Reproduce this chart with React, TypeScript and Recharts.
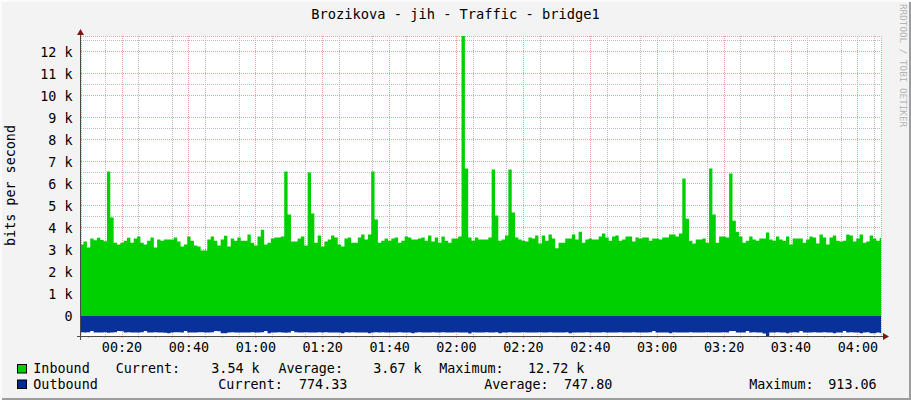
import { ComposedChart, Area, XAxis, YAxis, CartesianGrid } from "recharts";

const MONO = "'DejaVu Sans Mono', monospace";
const GREEN = "#00CF00";
const BLUE = "#002A97";
const GRID_MINOR = "#bcbcbc";
const GRID_MAJOR = "#eea0a0";

// one sample per minute, first one starts at 00:07:30
const START_MIN = 7.5;
const VIEW: [number, number] = [7.74, 246.9];
const Y_DOMAIN: [number, number] = [-913.06, 12720];

// inbound, bits per second
const inbound = [
  3240, 3380, 3110, 3520, 3440, 3550, 3450, 3390, 6560, 4470,
  3330, 3240, 3330, 3420, 3550, 3330, 3520, 3610, 3330, 3240,
  3420, 3560, 3110, 3470, 3420, 3470, 3470, 3470, 3560, 3380,
  3150, 3240, 3610, 3420, 3200, 3150, 2970, 2970, 3470, 3610,
  3420, 3200, 3470, 3640, 3150, 3520, 3420, 3560, 3420, 3420,
  3700, 3330, 3200, 3610, 3920, 3240, 3330, 3520, 3560, 3560,
  3610, 6560, 4610, 3380, 3380, 3520, 3610, 3200, 6520, 4650,
  3330, 3650, 3150, 3380, 3470, 3650, 3560, 3240, 3150, 3520,
  3560, 3330, 3330, 3560, 3700, 3470, 3700, 6560, 4380, 3330,
  3420, 3520, 3420, 3520, 3560, 3330, 3420, 3610, 3560, 3470,
  3470, 3520, 3560, 3420, 3650, 3380, 3560, 3330, 3610, 3420,
  3330, 3520, 3520, 3610, 12720, 6700, 3560, 3420, 3560, 3470,
  3470, 3470, 3560, 6650, 4560, 3420, 3470, 3650, 6650, 4700,
  3560, 3470, 3420, 3380, 3560, 3520, 3650, 3290, 3650, 3420,
  3700, 3520, 3070, 3330, 3330, 3520, 3520, 3700, 3470, 3830,
  3330, 3470, 3520, 3470, 3470, 3610, 3740, 3560, 3420, 3610,
  3650, 3420, 3470, 3610, 3610, 3380, 3560, 3520, 3560, 3560,
  3420, 3520, 3520, 3470, 3560, 3560, 3700, 3700, 3610, 3740,
  6240, 4420, 3420, 3290, 3470, 3470, 3520, 3330, 6700, 4610,
  3330, 3610, 3610, 3560, 6470, 4330, 3830, 3610, 3330, 3420,
  3610, 3470, 3420, 3520, 3520, 3790, 3470, 3420, 3610, 3470,
  3420, 3610, 3240, 3520, 3520, 3520, 3330, 3470, 3610, 3560,
  3290, 3700, 3560, 3240, 3560, 3650, 3420, 3380, 3420, 3700,
  3650, 3380, 3520, 3700, 3330, 3380, 3650, 3520, 3420, 3540,
];

// outbound, bits per second (drawn below zero)
const outbound = [
  748, 752, 745, 685, 750, 756, 749, 744, 770, 752,
  748, 690, 695, 750, 747, 752, 755, 749, 745, 688,
  750, 752, 748, 755, 758, 760, 792, 751, 748, 746,
  752, 686, 749, 754, 750, 745, 748, 752, 750, 746,
  690, 692, 788, 785, 752, 748, 750, 755, 749, 752,
  750, 747, 752, 755, 748, 685, 792, 750, 752, 748,
  756, 760, 752, 690, 748, 750, 752, 747, 750, 754,
  752, 748, 750, 747, 753, 749, 752, 750, 790, 748,
  752, 747, 750, 752, 749, 755, 790, 752, 748, 750,
  747, 752, 750, 749, 753, 748, 750, 752, 749, 792,
  750, 748, 752, 749, 751, 747, 752, 750, 748, 752,
  749, 751, 748, 752, 756, 750, 795, 748, 752, 749,
  750, 748, 752, 750, 748, 790, 750, 752, 748, 751,
  749, 752, 748, 750, 753, 749, 751, 748, 752, 750,
  748, 751, 749, 752, 750, 748, 792, 750, 749, 752,
  750, 748, 751, 749, 752, 750, 748, 752, 749, 751,
  750, 748, 752, 749, 751, 748, 750, 752, 749, 750,
  748, 682, 750, 752, 749, 751, 790, 748, 750, 752,
  755, 750, 748, 752, 749, 751, 750, 748, 752, 750,
  749, 751, 748, 750, 684, 688, 750, 752, 749, 685,
  750, 748, 752, 749, 800, 913.06, 752, 750, 748, 751,
  749, 790, 750, 748, 752, 684, 750, 749, 752, 748,
  751, 750, 748, 752, 749, 790, 750, 752, 684, 750,
  748, 752, 749, 792, 750, 748, 790, 788, 752, 774.33,
];

const hourTicks = [20, 40, 60, 80, 100, 120, 140, 160, 180, 200, 220, 240];
const fiveMinTicks = [
  10, 15, 20, 25, 30, 35, 40, 45, 50, 55, 60, 65, 70, 75, 80, 85, 90, 95,
  100, 105, 110, 115, 120, 125, 130, 135, 140, 145, 150, 155, 160, 165, 170,
  175, 180, 185, 190, 195, 200, 205, 210, 215, 220, 225, 230, 235, 240, 245,
];
const minorXTicks = fiveMinTicks.filter((t) => t % 20 !== 0);
const yTicks = [0, 1000, 2000, 3000, 4000, 5000, 6000, 7000, 8000, 9000, 10000, 11000, 12000];
const yHalfTicks = [-500, 500, 1500, 2500, 3500, 4500, 5500, 6500, 7500, 8500, 9500, 10500, 11500, 12500];

const legendIn = [
  { x: 33.3, text: "Inbound" },
  { x: 115.7, text: "Current:" },
  { x: 211.3, text: "3.54 k" },
  { x: 278.5, text: "Average:" },
  { x: 373.3, text: "3.67 k" },
  { x: 439.2, text: "Maximum:" },
  { x: 528, text: "12.72 k" },
];
const legendOut = [
  { x: 33.3, text: "Outbound" },
  { x: 218.3, text: "Current:" },
  { x: 299, text: "774.33" },
  { x: 484.2, text: "Average:" },
  { x: 564, text: "747.80" },
  { x: 749.2, text: "Maximum:" },
  { x: 828.3, text: "913.06" },
];

const rows = inbound.map((v, i) => ({ t: START_MIN + i, inb: v, out: -outbound[i] }));
rows.push({ t: START_MIN + inbound.length, inb: inbound[inbound.length - 1], out: -outbound[outbound.length - 1] });

const clock = (m: number) => {
  const h = Math.floor(m / 60);
  const mm = m % 60;
  return `${String(h).padStart(2, "0")}:${String(mm).padStart(2, "0")}`;
};

const TimeTick = (props: any) => {
  const { x, y, payload } = props;
  const major = payload.value % 20 === 0;
  return (
    <g>
      <line x1={x} x2={x} y1={y} y2={y + 2} stroke={major ? GRID_MAJOR : GRID_MINOR} />
      {major && (
        <text x={x} y={y + 15.5} textAnchor="middle" fontSize={13.4} fontFamily={MONO} fill="#000">
          {clock(payload.value)}
        </text>
      )}
    </g>
  );
};

const App = () => {
  return (
    <div
      style={{
        position: "absolute",
        left: 0,
        top: 0,
        width: 911,
        height: 400,
        background: "#f3f3f3",
        boxShadow: "inset 2px 2px 0 #fbfbfb, inset -2px -2px 0 #9c9c9c",
      }}
    >
      <ComposedChart
        width={911}
        height={400}
        data={rows}
        margin={{ top: 36, right: 30, bottom: 34, left: 0 }}
      >
        <XAxis xAxisId="minor" type="number" dataKey="t" domain={VIEW} allowDataOverflow ticks={minorXTicks} hide />
        <XAxis xAxisId="major" type="number" dataKey="t" domain={VIEW} allowDataOverflow ticks={hourTicks} hide />
        <YAxis yAxisId="minor" type="number" domain={Y_DOMAIN} allowDataOverflow ticks={yHalfTicks} hide />
        <CartesianGrid
          xAxisId="minor"
          yAxisId="minor"
          fill="#ffffff"
          stroke={GRID_MINOR}
          strokeDasharray="1 1"
          shapeRendering="crispEdges"
        />
        <CartesianGrid
          xAxisId="major"
          yAxisId={0}
          stroke={GRID_MAJOR}
          strokeDasharray="1 1"
          shapeRendering="crispEdges"
        />
        <XAxis
          type="number"
          dataKey="t"
          domain={VIEW}
          allowDataOverflow
          ticks={fiveMinTicks}
          interval={0}
          height={30}
          axisLine={false}
          tickLine={false}
          tickSize={0}
          tickMargin={0}
          tick={<TimeTick />}
        />
        <YAxis
          type="number"
          domain={Y_DOMAIN}
          allowDataOverflow
          ticks={yTicks}
          interval={0}
          width={81}
          axisLine={false}
          tickLine={false}
          tickSize={0}
          tickMargin={8.5}
          tickFormatter={(v: number) => (v === 0 ? "0" : `${v / 1000} k`)}
          tick={{ fontSize: 13.4, fill: "#000", fontFamily: MONO }}
        />
        <Area
          type="stepAfter"
          dataKey="inb"
          stroke="none"
          fill={GREEN}
          fillOpacity={1}
          isAnimationActive={false}
        />
        <Area
          type="stepAfter"
          dataKey="out"
          stroke="none"
          fill={BLUE}
          fillOpacity={0.97}
          isAnimationActive={false}
        />
      </ComposedChart>

      {/* title, axis arrows, legend */}
      <svg
        width={911}
        height={400}
        style={{ position: "absolute", left: 0, top: 0, pointerEvents: "none" }}
      >
        <text x={455.5} y={18.5} textAnchor="middle" fontSize={13.7} fontFamily={MONO} fill="#000">
          Brozikova - jih - Traffic - bridge1
        </text>
        <text
          x={14.5}
          y={185.5}
          transform="rotate(-90, 14.5, 185.5)"
          textAnchor="middle"
          fontSize={13.4}
          fontFamily={MONO}
          fill="#000"
        >
          bits per second
        </text>
        <text
          x={900}
          y={4}
          transform="rotate(90, 900, 4)"
          fontSize={9.3}
          fontFamily={MONO}
          fill="#b4b4b4"
        >
          RRDTOOL / TOBI OETIKER
        </text>

        <line x1={80.5} x2={80.5} y1={33} y2={340} stroke="#4a4a4a" />
        <line x1={77} x2={884} y1={336.5} y2={336.5} stroke="#4a4a4a" />
        <polygon points="77,35 84,35 80.5,29" fill="#7f1414" />
        <polygon points="883,333 883,340 889,336.5" fill="#7f1414" />

        <rect x={17.5} y={364.5} width={9} height={8.5} fill={GREEN} stroke="#000" />
        <rect x={17.5} y={380} width={9} height={8.5} fill={BLUE} stroke="#000" />
        {legendIn.map((d) => (
          <text key={"i" + d.x} x={d.x} y={373.3} fontSize={13.4} fontFamily={MONO} fill="#000">
            {d.text}
          </text>
        ))}
        {legendOut.map((d) => (
          <text key={"o" + d.x} x={d.x} y={389} fontSize={13.4} fontFamily={MONO} fill="#000">
            {d.text}
          </text>
        ))}
      </svg>
    </div>
  );
};

export default App;
